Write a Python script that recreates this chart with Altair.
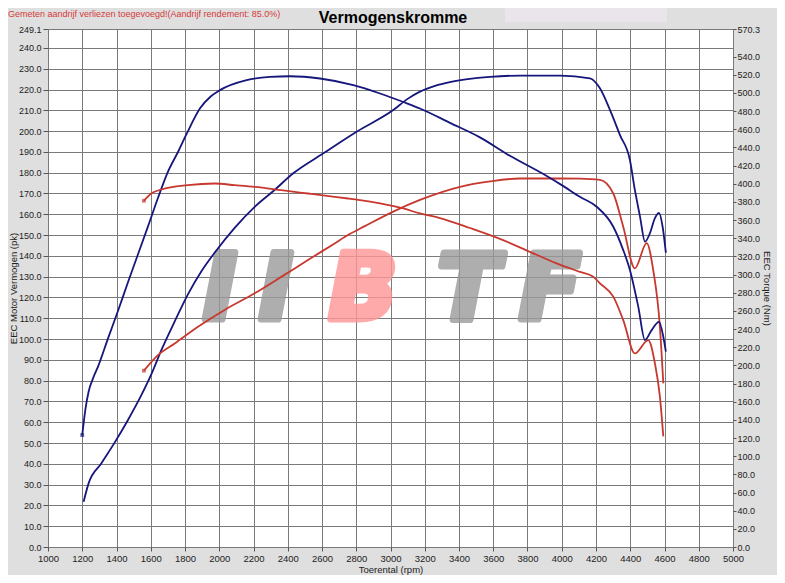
import altair as alt
import pandas as pd

# ---------------- data ----------------
# Tuned (blue) torque, Nm  -> right axis
bt_rpm = [1200, 1218, 1237, 1263, 1292, 1350, 1409, 1467, 1525, 1584, 1642, 1700, 1762, 1810, 1888,
          1950, 2004, 2160, 2296, 2413, 2588, 2783, 2939, 3075, 3172, 3347, 3522, 3700, 3900, 4000,
          4106, 4204, 4301, 4359, 4398, 4447, 4486, 4525, 4568, 4593, 4608]
bt_nm = [123.2, 150.9, 171.0, 185.7, 198.5, 229.4, 260.1, 291.4, 322.1, 353.0, 384.2, 413.0, 436.0, 455.0, 483.0,
         496.0, 503.0, 514.0, 517.6, 518.3, 515.8, 508.5, 499.3, 489.9, 482.8, 467.0, 451.0, 430.4, 409.8, 398.4,
         385.5, 374.6, 352.6, 326.9, 305.0, 264.4, 227.8, 238.8, 247.9, 231.5, 215.0]

# Tuned (blue) power, pk -> left axis
bp_rpm = [1208, 1237, 1311, 1389, 1467, 1545, 1603, 1662, 1740, 1817, 1895, 1973, 2090, 2207,
          2323, 2432, 2608, 2802, 3016, 3100, 3172, 3260, 3347, 3450, 3581, 3760, 3990, 4165, 4223,
          4282, 4340, 4398, 4427, 4457, 4486, 4515, 4544, 4568, 4589, 4608]
bp_pk = [21.8, 30.6, 40.2, 50.2, 61.1, 73.0, 83.0, 94.7, 108.5, 121.5, 132.5, 141.5, 153.5, 163.6,
         171.7, 179.7, 189.3, 199.7, 210.1, 215.5, 219.0, 221.8, 223.6, 225.0, 226.1, 226.7, 226.7, 225.4,
         220.6, 210.1, 198.1, 186.1, 171.7, 158.9, 146.8, 150.9, 158.1, 160.7, 154.0, 141.5]

# Stock (red) torque, Nm -> right axis
rt_rpm = [1560, 1603, 1662, 1817, 1973, 2090, 2207, 2362, 2518, 2674, 2751, 2822, 2939, 3075,
          3172, 3289, 3464, 3657, 3814, 3970, 4106, 4184, 4223, 4301, 4359, 4427, 4505, 4544,
          4573, 4593]
rt_nm = [381.2, 389.2, 393.6, 398.4, 400.2, 398.4, 396.5, 392.9, 389.2, 385.5, 383.7, 381.9, 378.2, 372.7,
         367.2, 362.2, 351.2, 337.9, 325.0, 312.3, 302.9, 297.6, 290.3, 275.6, 249.8, 213.1, 227.8, 202.2,
         165.8, 121.8]

# Stock (red) power, pk -> left axis
rp_rpm = [1560, 1642, 1740, 1876, 2031, 2207, 2362, 2518, 2674, 2751, 2850, 3016, 3172, 3406,
          3581, 3756, 3990, 4106, 4223, 4301, 4359, 4427, 4496, 4534, 4573, 4593]
rp_pk = [84.8, 92.3, 97.9, 105.9, 114.0, 122.0, 129.9, 138.0, 146.0, 150.0, 154.3, 161.3, 166.9, 173.2,
         175.8, 177.2, 177.2, 177.1, 176.5, 170.0, 154.0, 134.0, 146.1, 133.2, 106.0, 78.7]

x_ticks = list(range(1000, 5001, 200))
pk_ticks = [0, 10, 20, 30, 40, 50, 60, 70, 80, 90, 100, 110, 120, 130, 140, 150, 160, 170, 180,
            190, 200, 210, 220, 230, 240, 249.1]
nm_ticks = [0, 20, 40, 60, 80, 100, 120, 140, 160, 180, 200, 220, 240, 260, 280, 300, 320, 340,
            360, 380, 400, 420, 440, 460, 480, 500, 520, 540, 570.3]

title_text = "Vermogenskromme"
note_text = "Gemeten aandrijf verliezen toegevoegd!(Aandrijf rendement: 85.0%)"

BLUE = "#16167c"
RED = "#c8382f"
FONT = "Liberation Sans"

bt = pd.DataFrame({"rpm": bt_rpm, "v": bt_nm})
bp = pd.DataFrame({"rpm": bp_rpm, "v": bp_pk})
rt = pd.DataFrame({"rpm": rt_rpm, "v": rt_nm})
rp = pd.DataFrame({"rpm": rp_rpm, "v": rp_pk})

x_enc = alt.X("rpm:Q",
              scale=alt.Scale(domain=[1000, 5000], nice=False, zero=False),
              axis=alt.Axis(values=x_ticks, format="d", title="Toerental (rpm)", grid=True,
                            labelFlush=False, tickSize=4, labelPadding=2, titlePadding=2,
                            labelFontSize=9.5, titleFontSize=9.5, labelOverlap=False))

y_left = alt.Y("v:Q",
               scale=alt.Scale(domain=[0, 249.1], nice=False, zero=True),
               axis=alt.Axis(orient="left", values=pk_ticks, format=".1f",
                             title="EEC Motor Vermogen (pk)", grid=True, tickSize=5,
                             labelPadding=2, titlePadding=0, labelFontSize=9,
                             titleFontSize=9.5, labelOverlap=False))

y_right = alt.Y("v:Q",
                scale=alt.Scale(domain=[0, 570.3], nice=False, zero=True),
                axis=alt.Axis(orient="right", values=nm_ticks, format=".1f",
                              title="EEC Torque (Nm)", grid=False, tickSize=3,
                              labelPadding=1, titlePadding=2, labelFontSize=9,
                              titleFontSize=9.5, labelOverlap=False))


def line(df, y, color):
    return alt.Chart(df).mark_line(color=color, strokeWidth=1.8, interpolate="monotone").encode(
        x=x_enc, y=y)


def start_pt(df, y, color):
    return alt.Chart(df.head(1)).mark_square(color=color, size=14, filled=True).encode(x=x_enc, y=y)


left = alt.layer(line(bp, y_left, BLUE), line(rp, y_left, RED),
                 start_pt(rp, y_left, RED))
right = alt.layer(line(bt, y_right, BLUE), line(rt, y_right, RED),
                  start_pt(bt, y_right, BLUE), start_pt(rt, y_right, RED))

one = pd.DataFrame({"t": [title_text]})
note = pd.DataFrame({"t": [note_text]})

box = alt.Chart(one).mark_rect(color="#e9e5ea").encode(
    x=alt.value(457), x2=alt.value(619), y=alt.value(-21), y2=alt.value(-7))
title = alt.Chart(one).mark_text(font=FONT, fontSize=16, fontWeight="bold", color="#000000",
                                 align="center", baseline="alphabetic").encode(
    text="t:N", x=alt.value(345), y=alt.value(-6))
note_mark = alt.Chart(note).mark_text(font=FONT, fontSize=9, color="#d53a3a",
                                      align="left", baseline="middle").encode(
    text="t:N", x=alt.value(-40), y=alt.value(-15))


def logo_letter(ch, xpos, color):
    d = pd.DataFrame({"t": [ch]})
    return alt.Chart(d).mark_text(font="DejaVu Sans", fontSize=90, fontWeight="bold",
                                  fontStyle="italic", color=color, stroke=color, strokeWidth=7,
                                  strokeJoin="round", opacity=0.8,
                                  align="center", baseline="alphabetic").encode(
        text="t:N", x=alt.value(xpos), y=alt.value(290))


logo = alt.layer(
    logo_letter("I", 172, "#9a9a9a"),
    logo_letter("I", 228, "#9a9a9a"),
    logo_letter("B", 315, "#ff9696"),
    logo_letter("T", 420, "#9a9a9a"),
    logo_letter("F", 502, "#9a9a9a"),
)

chart = alt.layer(box, title, note_mark, logo, left, right).resolve_scale(
    y="independent"
).properties(
    width=685, height=518,
    autosize=alt.AutoSizeParams(type="none"),
    padding={"left": 40, "top": 21, "right": 44, "bottom": 28},
    background="#dfdfdf",
).configure_view(
    fill="white", strokeWidth=0
).configure_axis(
    labelFont=FONT, labelColor="#222222",
    titleFont=FONT, titleFontWeight="normal", titleColor="#222222",
    tickColor="#555555", domain=False, gridColor="#7a7a7a", gridWidth=1, gridOpacity=1
)

chart.save("out.html", embed_options={"renderer": "svg", "actions": False})
